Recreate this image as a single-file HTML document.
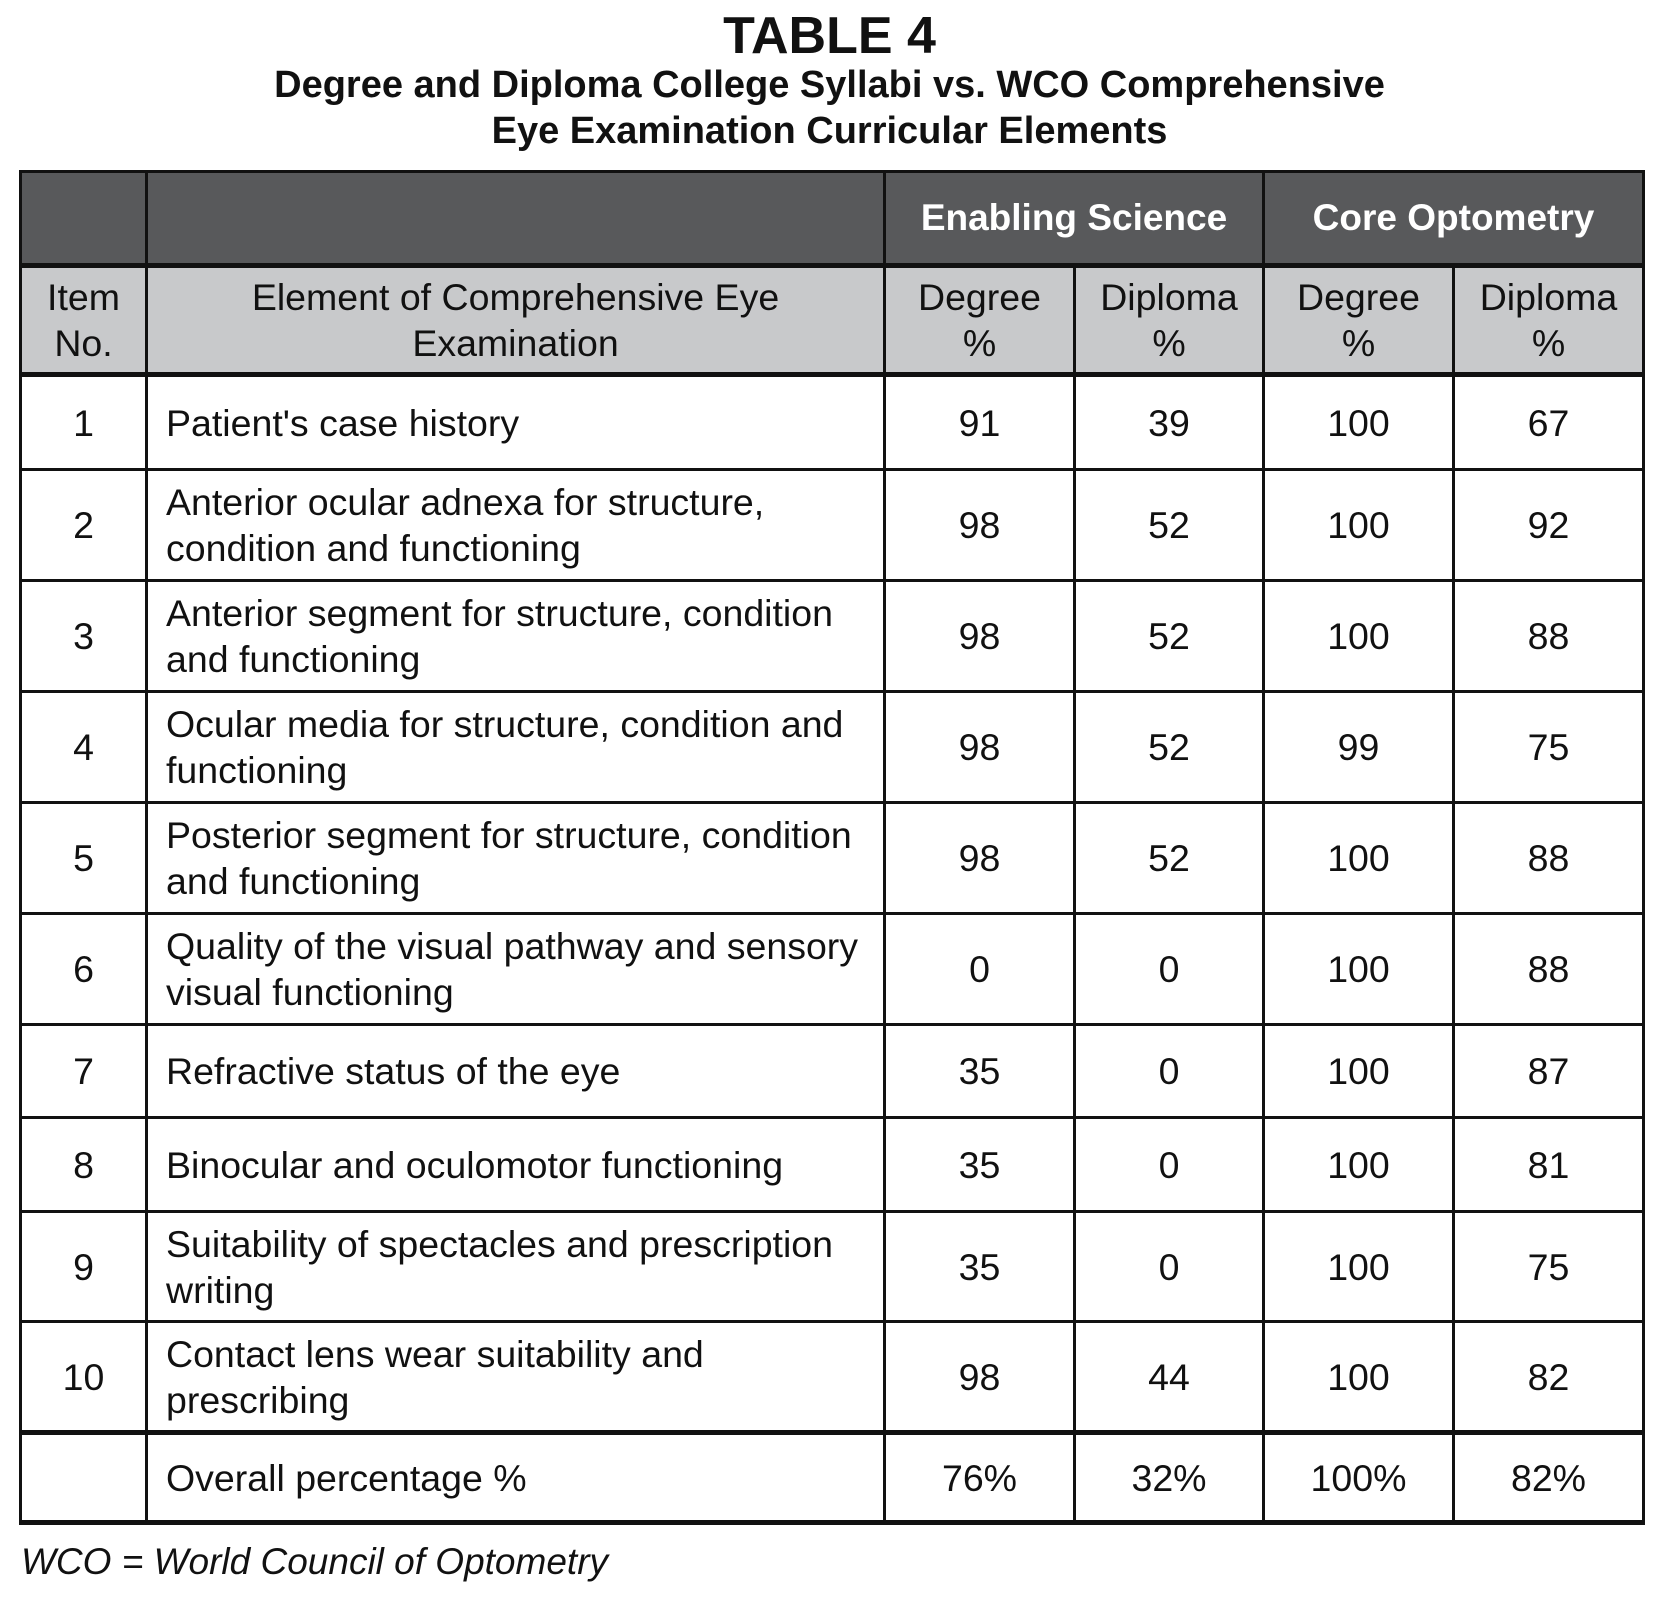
<!DOCTYPE html>
<html><head><meta charset="utf-8"><style>
body{margin:0;width:1659px;height:1598px;background:#fff;font-family:"Liberation Sans",Arial,sans-serif;position:relative;overflow:hidden}
.t1{position:absolute;top:6px;left:0;width:1659px;text-align:center;font-weight:bold;font-size:52px;color:#111}
.t2{position:absolute;top:62px;left:0;width:1659px;text-align:center;font-weight:bold;font-size:38px;line-height:46px;color:#111}
table{position:absolute;left:19px;top:170px;border-collapse:collapse;table-layout:fixed;width:1623px}
td{border:3px solid #111;font-size:37.5px;text-align:center;line-height:46px;color:#111;padding:0;box-sizing:border-box}
td.l{text-align:left;padding-left:18px}
tr.h1 td{background:#58595b;color:#fff;font-weight:bold;font-size:37px;border-bottom:5px solid #111}
tr.h2 td{background:#c8c9cb;border-bottom:5px solid #111}
tr.last td{border-top:5px solid #111;border-bottom:5px solid #111}
.fn{position:absolute;left:21px;top:1541px;font-style:italic;font-size:37px;color:#111}
</style></head><body>
<div class="t1">TABLE 4</div>
<div class="t2">Degree and Diploma College Syllabi vs. WCO Comprehensive<br>Eye Examination Curricular Elements</div>
<table>
<colgroup><col style="width:126px"><col style="width:738px"><col style="width:190px"><col style="width:189px"><col style="width:190px"><col style="width:190px"></colgroup>
<tr class="h1" style="height:94px"><td></td><td></td><td colspan="2">Enabling Science</td><td colspan="2">Core Optometry</td></tr>
<tr class="h2" style="height:109px"><td>Item<br>No.</td><td>Element of Comprehensive Eye<br>Examination</td><td>Degree<br>%</td><td>Diploma<br>%</td><td>Degree<br>%</td><td>Diploma<br>%</td></tr>
<tr style="height:95px"><td>1</td><td class="l">Patient's case history</td><td>91</td><td>39</td><td>100</td><td>67</td></tr>
<tr style="height:111px"><td>2</td><td class="l">Anterior ocular adnexa for structure,<br>condition and functioning</td><td>98</td><td>52</td><td>100</td><td>92</td></tr>
<tr style="height:111px"><td>3</td><td class="l">Anterior segment for structure, condition<br>and functioning</td><td>98</td><td>52</td><td>100</td><td>88</td></tr>
<tr style="height:111px"><td>4</td><td class="l">Ocular media for structure, condition and<br>functioning</td><td>98</td><td>52</td><td>99</td><td>75</td></tr>
<tr style="height:111px"><td>5</td><td class="l">Posterior segment for structure, condition<br>and functioning</td><td>98</td><td>52</td><td>100</td><td>88</td></tr>
<tr style="height:111px"><td>6</td><td class="l">Quality of the visual pathway and sensory<br>visual functioning</td><td>0</td><td>0</td><td>100</td><td>88</td></tr>
<tr style="height:93px"><td>7</td><td class="l">Refractive status of the eye</td><td>35</td><td>0</td><td>100</td><td>87</td></tr>
<tr style="height:94px"><td>8</td><td class="l">Binocular and oculomotor functioning</td><td>35</td><td>0</td><td>100</td><td>81</td></tr>
<tr style="height:110px"><td>9</td><td class="l">Suitability of spectacles and prescription<br>writing</td><td>35</td><td>0</td><td>100</td><td>75</td></tr>
<tr style="height:111px"><td>10</td><td class="l">Contact lens wear suitability and<br>prescribing</td><td>98</td><td>44</td><td>100</td><td>82</td></tr>
<tr class="last" style="height:90px"><td></td><td class="l">Overall percentage %</td><td>76%</td><td>32%</td><td>100%</td><td>82%</td></tr>
</table>
<div class="fn">WCO = World Council of Optometry</div>
</body></html>
